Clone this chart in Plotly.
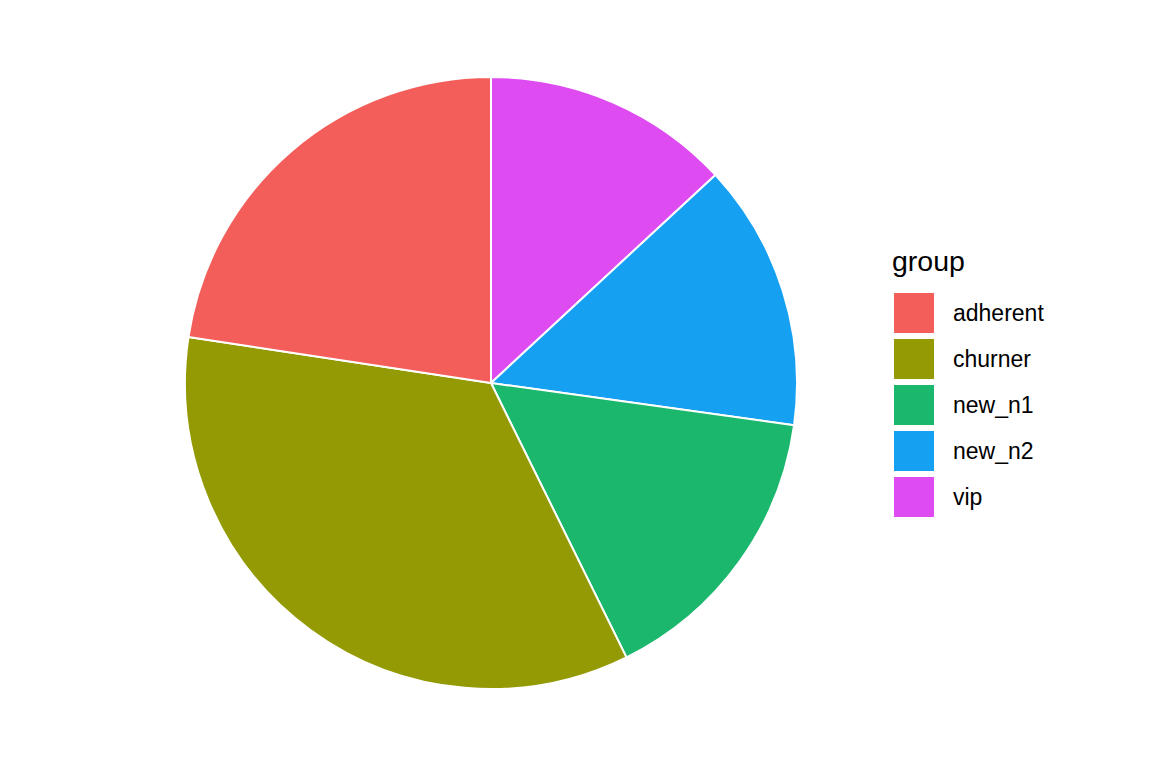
import plotly.graph_objects as go

groups = ["adherent", "churner", "new_n1", "new_n2", "vip"]
shares = [22.6, 34.7, 15.5, 14.1, 13.1]
colors = ["#F35E5A", "#939A04", "#1AB76C", "#16A0F2", "#DE4BF1"]

W, H = 1152, 768
OFF = 8  # default body margin of the html page
cx, cy, r = 491 - OFF, 383 - OFF, 306


def px(x):
    return (x - OFF) / W


def py(y):
    return 1 - (y - OFF) / H


# ggplot stacks the first level last: clockwise from 12 o'clock is vip ... adherent
fig = go.Figure(go.Pie(
    labels=groups[::-1], values=shares[::-1], sort=False, direction="clockwise",
    rotation=0, textinfo="none", hoverinfo="label+percent",
    marker=dict(colors=colors[::-1], line=dict(color="white", width=2)),
    domain=dict(x=[(cx - r) / W, (cx + r) / W], y=[(H - cy - r) / H, (H - cy + r) / H]),
    showlegend=False,
))

shapes = []
annotations = [dict(text="group", x=px(890), y=py(261), xref="paper", yref="paper",
                    xanchor="left", yanchor="middle", showarrow=False,
                    font=dict(size=28.5, color="black", family="Liberation Sans, Arial"))]
for i, (g, c) in enumerate(zip(groups, colors)):
    top = 293 + 46 * i
    shapes.append(dict(type="rect", xref="paper", yref="paper",
                       x0=px(894), x1=px(934), y0=py(top), y1=py(top + 40),
                       fillcolor=c, line=dict(width=0)))
    annotations.append(dict(text=g, x=px(951), y=py(top + 20), xref="paper", yref="paper",
                            xanchor="left", yanchor="middle", showarrow=False,
                            font=dict(size=23, color="black", family="Liberation Sans, Arial")))

fig.update_layout(width=W, height=H, margin=dict(l=0, r=0, t=0, b=0),
                  paper_bgcolor="white", plot_bgcolor="white",
                  shapes=shapes, annotations=annotations)
fig.write_html("out.html")
